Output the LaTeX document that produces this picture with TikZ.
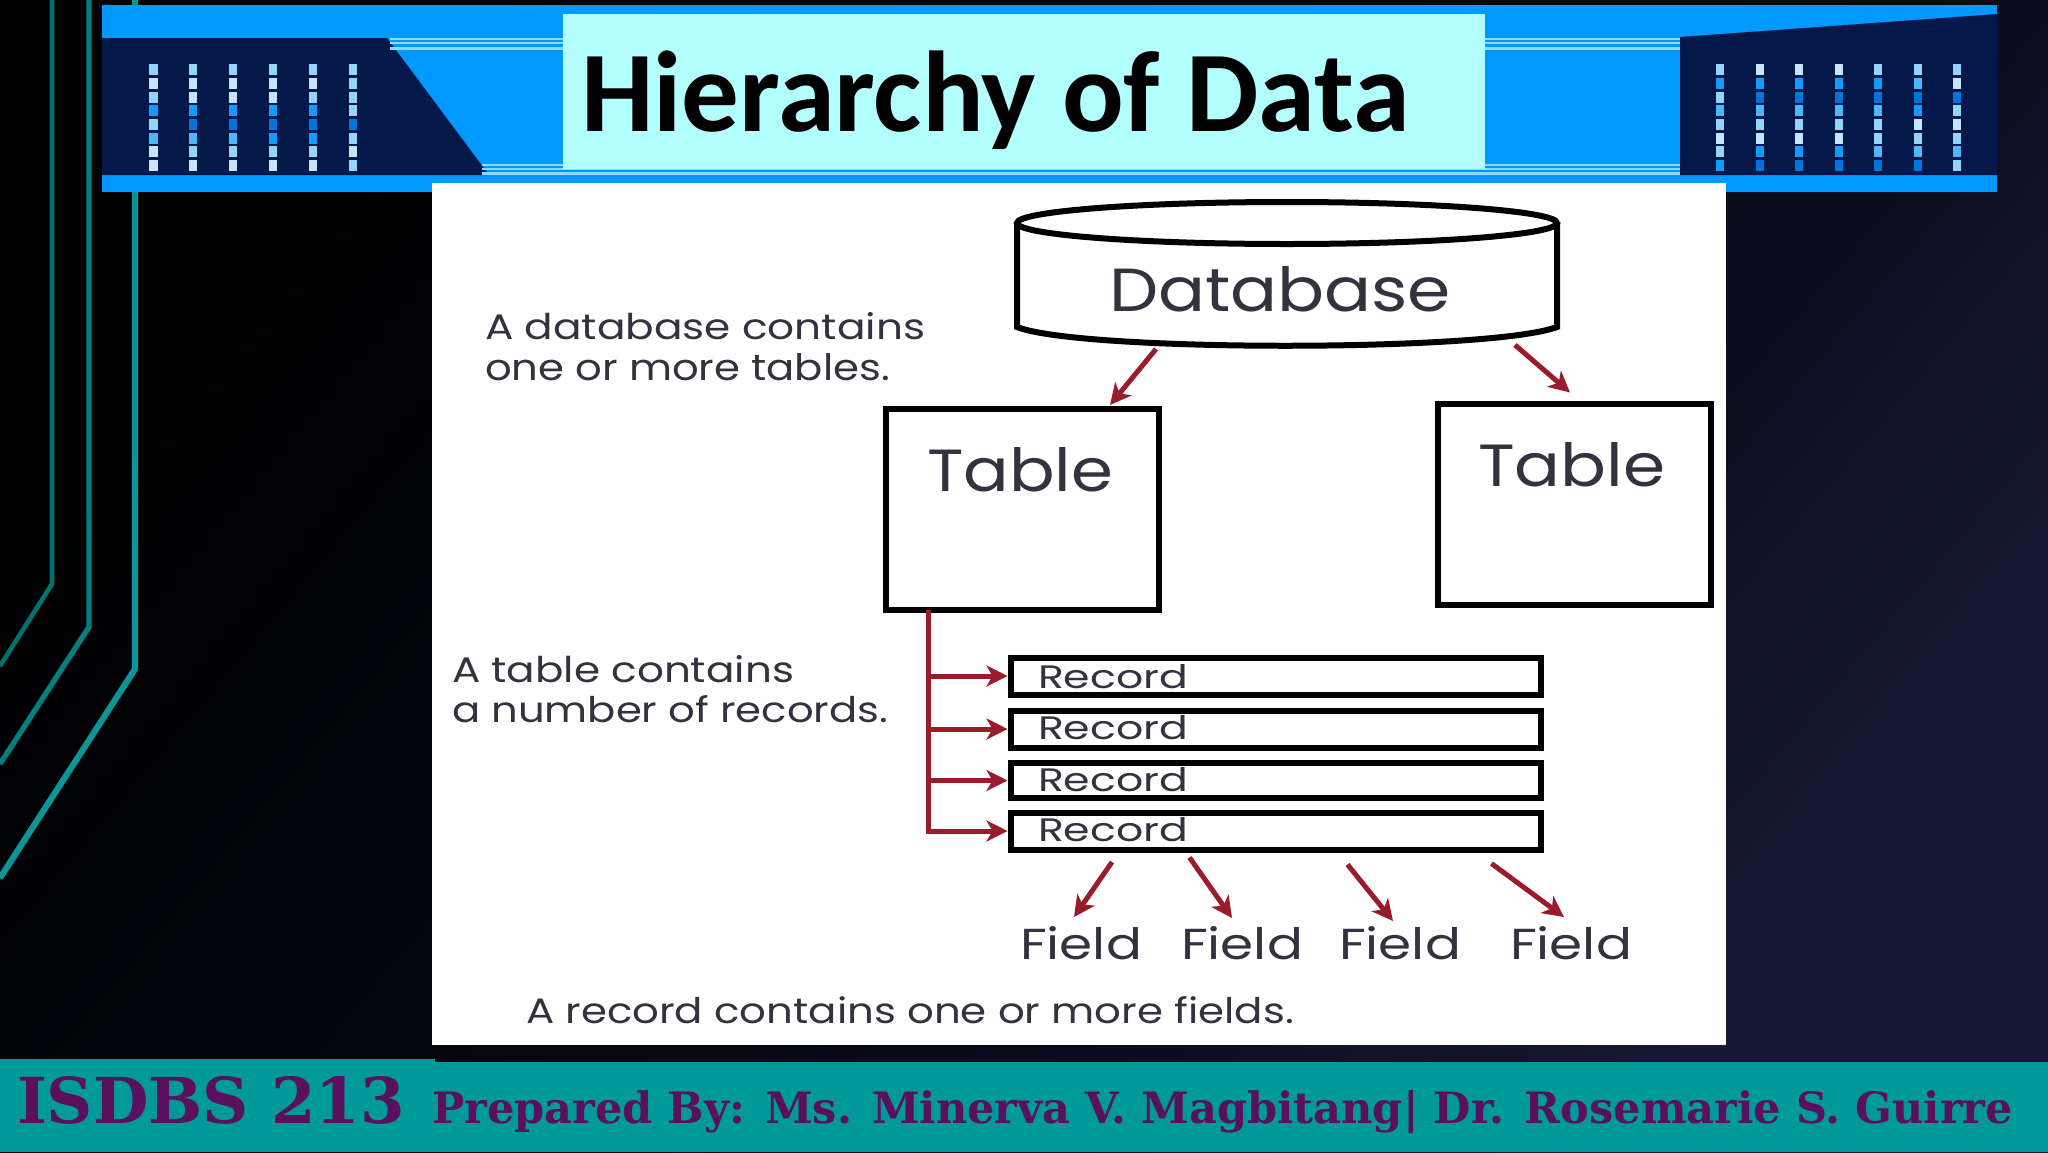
\documentclass[tikz,border=0pt]{standalone}
\usepackage{fontspec}
\usepackage{graphicx}
\setmainfont{Poppins}
\newfontfamily\titlefont{Carlito}[BoldFont={Carlito Bold}]
\newfontfamily\slabfont{DejaVu Serif}
\usetikzlibrary{arrows.meta}
\definecolor{hdrblue}{HTML}{0099FF}
\definecolor{hdrdark}{HTML}{04184A}
\definecolor{strip}{HTML}{8FD8FF}
\definecolor{titlebg}{HTML}{B3FFFF}
\definecolor{teal1}{HTML}{007272}
\definecolor{teal2}{HTML}{008080}
\definecolor{teal3}{HTML}{0A9696}
\definecolor{footteal}{HTML}{009999}
\definecolor{footpurple}{HTML}{5A0F5F}
\definecolor{arrowred}{HTML}{9A1B2A}
\definecolor{inktext}{HTML}{33333F}
\definecolor{bga}{HTML}{04060E}
\definecolor{bgb}{HTML}{080C1A}
\definecolor{bgc}{HTML}{141A34}
\definecolor{sqA}{HTML}{C5E6FF}
\definecolor{sqB}{HTML}{93D5FA}
\definecolor{sqC}{HTML}{4DB8F8}
\definecolor{sqD}{HTML}{0F9BFF}
\definecolor{sqE}{HTML}{0073DC}
\pgfdeclarehorizontalshading{bgshade}{100bp}{color(0bp)=(black); color(25bp)=(black); color(45bp)=(bga); color(60bp)=(bgb); color(75bp)=(bgc); color(100bp)=(bgc)}
\newcommand{\fit}[3]{\resizebox{#1pt}{#2pt}{#3}}
\tikzset{
  boxed/.style={draw=black,line width=6pt,fill=white,inner sep=0pt,outer sep=0pt},
  txt/.style={inner sep=0pt,outer sep=0pt,anchor=base west,text=inktext},
  ln/.style={line width=#1,line join=miter},
  redarrow/.style={draw=arrowred,line width=5pt,-{Stealth[length=21pt,width=21pt,inset=6pt]}}
}
\begin{document}
\begin{tikzpicture}[x=1pt,y=-1pt]
\useasboundingbox (0,0) rectangle (2048,1152);
% background
\shade[shading=bgshade,shading angle=-40] (0,0) rectangle (2048,1152);
% left lines
\draw[teal1,ln=4.6pt] (52,0) -- (52,584) -- (0,666);
\draw[teal2,ln=5.4pt] (89,0) -- (89,627) -- (0,764);
\draw[teal3,ln=6.2pt] (135,0) -- (135,669) -- (0,878);
% header
\fill[hdrblue] (102,5) rectangle (1997,192);
\fill[hdrdark] (102,38) -- (387,38) -- (489,175) -- (102,175) -- cycle;
\fill[hdrdark] (1680,37) -- (1997,14) -- (1997,175) -- (1680,175) -- cycle;
\foreach \ya/\yb in {38/40,42/44,47/50}{
  \fill[strip] (390,\ya) rectangle (563,\yb);
  \fill[strip] (1485,\ya) rectangle (1680,\yb);
}
\foreach \ya/\yb in {164/166,168/170,172/175}{
  \fill[strip] (482,\ya) rectangle (1680,\yb);
}
\fill[titlebg] (563,14) rectangle (1485,169);
\node[inner sep=0pt,outer sep=0pt,anchor=base west,text=black] (title) at (581,131)
  {\resizebox{829pt}{!}{\titlefont\bfseries\fontsize{100pt}{100pt}\selectfont Hierarchy of Data}};
% squares
\foreach \y/\row in {69/{B,B,B,B,B,B},83/{A,A,A,A,A,B},97/{B,A,A,A,B,B},110/{D,D,D,D,D,B},124/{B,E,E,E,E,E},138/{C,C,C,D,D,B},151/{A,B,B,B,B,A},165/{A,A,A,A,A,B}}{
  \foreach \c [count=\i from 0] in \row {
    \fill[sq\c] ({149+\i*39.9},\y-5) rectangle ({157.5+\i*39.9},\y+5.5);
  }
}
\foreach \y/\row in {69/{B,A,A,A,B,B,B},83/{D,D,D,D,D,C,A},97/{B,E,E,E,E,E,E},110/{C,C,C,C,C,D,B},124/{B,B,B,B,B,A,A},138/{A,A,A,A,B,B,B},151/{B,D,D,D,C,C,C},165/{D,E,E,E,E,E,B}}{
  \foreach \c [count=\i from 0] in \row {
    \fill[sq\c] ({1716+\i*39.5},\y-5) rectangle ({1724+\i*39.5},\y+5.5);
  }
}
% white panel
\fill[white] (432,183) rectangle (1726,1045);
% footer
\fill[footteal] (0,1059) rectangle (435,1152);
\fill[footteal] (435,1062) rectangle (2048,1152);
\node[inner sep=0pt,outer sep=0pt,anchor=base west,text=footpurple] (course) at (17,1123)
  {\resizebox{388pt}{47pt}{\slabfont\bfseries ISDBS 213}};
\node[inner sep=0pt,outer sep=0pt,anchor=base west,text=footpurple] (prep) at (432,1123)
  {\resizebox{1581pt}{33pt}{\slabfont\bfseries Prepared By: Ms. Minerva V. Magbitang| Dr. Rosemarie S. Guirre}};
% database cylinder
\draw[black,line width=6pt,fill=white] (1017,223) -- (1017,327) .. controls (1080,352) and (1490,352) .. (1557,327) -- (1557,223);
\draw[black,line width=6pt,fill=white] (1287,223) ellipse [x radius=270,y radius=21];
\node[inner sep=0pt,outer sep=0pt,minimum width=540pt,minimum height=122pt] (db) at (1287,284) {};
\node[txt] (dblabel) at (1109,311) {\fit{342}{45}{Database}};
% tables
\node[boxed,minimum width=273pt,minimum height=201pt] (t1) at (1022,509) {};
\node[boxed,minimum width=273pt,minimum height=201pt] (t2) at (1574.5,504) {};
\node[txt] (t1label) at (927,491) {\fit{186}{44}{Table}};
\node[txt] (t2label) at (1478,486) {\fit{187}{44}{Table}};
% records
\node[boxed,minimum width=530pt,minimum height=37pt] (r1) at (1275.5,676) {};
\node[boxed,minimum width=530pt,minimum height=37pt] (r2) at (1275.5,729) {};
\node[boxed,minimum width=530pt,minimum height=35pt] (r3) at (1275.5,780.5) {};
\node[boxed,minimum width=530pt,minimum height=37pt] (r4) at (1275.5,831) {};
\node[txt] (r1l) at (1038,688) {\fit{150}{24}{Record}};
\node[txt] (r2l) at (1038,739) {\fit{150}{24}{Record}};
\node[txt] (r3l) at (1038,791) {\fit{150}{24}{Record}};
\node[txt] (r4l) at (1038,841) {\fit{150}{24}{Record}};
% fields
\node[txt] (f1) at (1020,959) {\fit{122}{33}{Field}};
\node[txt] (f2) at (1181,959) {\fit{122}{33}{Field}};
\node[txt] (f3) at (1339,959) {\fit{122}{33}{Field}};
\node[txt] (f4) at (1510,959) {\fit{122}{33}{Field}};
% captions
\node[txt] (c1a) at (485,339) {\fit{440}{27}{A database contains}};
\node[txt] (c1b) at (485,380) {\fit{405}{27}{one or more tables.}};
\node[txt] (c2a) at (452,682) {\fit{342}{27}{A table contains}};
\node[txt] (c2b) at (452,722) {\fit{436}{27}{a number of records.}};
\node[txt] (c3) at (526,1023) {\fit{768}{27}{A record contains one or more fields.}};
% connectors
\coordinate (trunk) at ([xshift=-94pt]t1.south);
\coordinate (j1) at (r1.west -| trunk);
\coordinate (j2) at (r2.west -| trunk);
\coordinate (j3) at (r3.west -| trunk);
\coordinate (j4) at (r4.west -| trunk);
\draw[arrowred,line width=5pt] (trunk) -- (j4);
\draw[redarrow] (j1) -- ([xshift=-3pt]r1.west);
\draw[redarrow] (j2) -- ([xshift=-3pt]r2.west);
\draw[redarrow] (j3) -- ([xshift=-3pt]r3.west);
\draw[redarrow] ([xshift=-2.5pt]j4) -- ([xshift=-3pt]r4.west);
\draw[redarrow] ([xshift=139pt,yshift=-4pt]db.south west) -- ([xshift=88pt,yshift=3.5pt]t1.north);
\draw[redarrow] ([xshift=-42pt]db.south east) -- ([xshift=-4.5pt,yshift=11pt]t2.north);
\draw[redarrow] ([xshift=-163.5pt,yshift=-12.5pt]r4.south) -- ([yshift=9pt,xshift=-7pt]f1.north);
\draw[redarrow] ([xshift=-86pt,yshift=-8pt]r4.south) -- ([yshift=8pt,xshift=-10pt]f2.north);
\draw[redarrow] ([xshift=72pt,yshift=-15pt]r4.south) -- ([yshift=5pt,xshift=-7pt]f3.north);
\draw[redarrow] ([xshift=216pt,yshift=-14pt]r4.south) -- ([yshift=9pt,xshift=-7pt]f4.north);
\end{tikzpicture}
\end{document}
